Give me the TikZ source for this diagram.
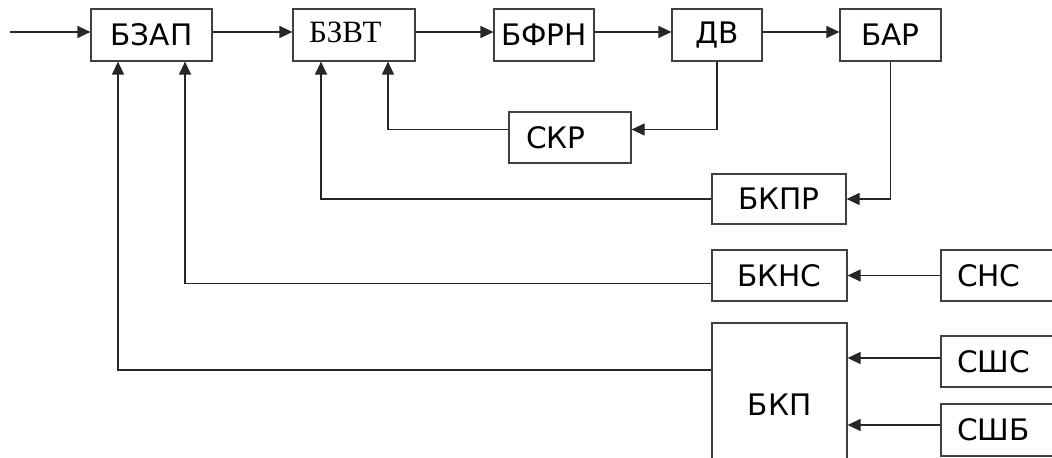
\documentclass[tikz,border=0pt]{standalone}
\usepackage{fontspec}
\usetikzlibrary{arrows.meta}
\newfontfamily\dejavu{DejaVu Sans}
\newfontfamily\libserif{Liberation Serif}

\begin{document}
\begin{tikzpicture}[
    x=0.5pt, y=-0.5pt,
    blk/.style={
        draw=black!75,
        line width=0.6pt,
        inner sep=0pt,
        minimum height=26pt,
        font=\dejavu\fontsize{14.8}{18}\selectfont,
        align=center,
    },
    lblk/.style={
        blk,
        align=left,
        inner xsep=8pt,
    },
    wire/.style={draw=black!85, line width=0.6pt},
    arr/.style={wire, -{Triangle[length=6.5pt,width=6pt]}},
]

\clip (0,0) rectangle (1052,458);

\node[blk, minimum width=60.5pt] (bzap) at (151.5,35) {БЗАП};
\node[lblk, text width=45pt, font=\libserif\fontsize{15.5}{18}\selectfont] (bzvt) at (354,35) {\raisebox{3pt}{БЗВТ}};
\node[blk, minimum width=50pt] (bfrn) at (544,35) {БФРН};
\node[blk, minimum width=45pt] (dv) at (717,35) {ДВ};
\node[blk, minimum width=50.5pt] (bar) at (890.5,35) {БАР};

\node[lblk, text width=44pt, inner xsep=8.5pt, minimum height=25.5pt] (skr) at (570,137.5) {СКР};
\node[blk, minimum width=67pt, minimum height=25pt] (bkpr) at (779,199) {БКПР};
\node[blk, minimum width=67.5pt, minimum height=25.5pt] (bkns) at (779.5,275.5) {БКНС};
\node[blk, minimum width=67.5pt, minimum height=82pt] (bkp) at (779.5,405) {БКП};

\node[lblk, text width=48.5pt, minimum height=25.5pt] (sns) at (1005.5,275.5) {СНС};
\node[lblk, text width=48.5pt, minimum height=25.5pt] (sshs) at (1005.5,361.5) {СШС};
\node[lblk, text width=48.5pt, minimum height=26pt] (sshb) at (1005.5,430) {СШБ};

\coordinate (vhod) at (10,32);

\draw[arr] (vhod) -- (vhod -| bzap.west);
\draw[arr] ([yshift=1.5pt]bzap.east) -- ([yshift=1.5pt]bzap.east -| bzvt.west);
\draw[arr] ([yshift=1.5pt]bzvt.east) -- ([yshift=1.5pt]bzvt.east -| bfrn.west);
\draw[arr] ([yshift=1.5pt]bfrn.east) -- ([yshift=1.5pt]bfrn.east -| dv.west);
\draw[arr] ([yshift=1.5pt]dv.east) -- ([yshift=1.5pt]dv.east -| bar.west);

\draw[arr] (dv.south) |- ([yshift=4pt]skr.east);
\draw[arr] ([yshift=4pt]skr.west) -| ([xshift=17pt]bzvt.south);
\draw[arr] (bar.south) |- (bkpr.east);
\draw[arr] (bkpr.west) -| ([xshift=-16.5pt]bzvt.south);

\draw[arr] (sns.west) -- (bkns.east);
\draw[arr] ([yshift=-4pt]bkns.west) -| ([xshift=16.75pt]bzap.south);
\draw[arr] ([yshift=17.5pt]bkp.west) -| ([xshift=-16.75pt]bzap.south);

\draw[arr] ([yshift=1.75pt]sshs.west) -- ([yshift=1.75pt]sshs.west -| bkp.east);
\draw[arr] ([yshift=2.5pt]sshb.west) -- ([yshift=2.5pt]sshb.west -| bkp.east);

\end{tikzpicture}
\end{document}
